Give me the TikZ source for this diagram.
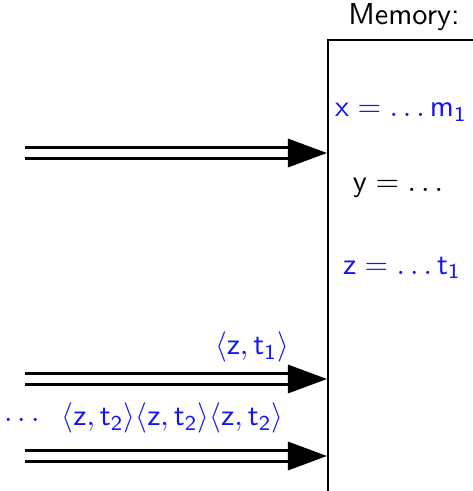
\documentclass[tikz,border=0pt]{standalone}
\usepackage{tikz}
\usetikzlibrary{positioning,arrows.meta}
\definecolor{valblue}{RGB}{20,20,245}

\begin{document}
\begin{tikzpicture}[
  x=0.33pt, y=-0.33pt,
  font=\sffamily,
  memory/.style={draw, line width=0.5pt, minimum width=70pt, minimum height=170pt, anchor=north west, inner sep=0pt},
  val/.style={text=valblue, inner sep=1pt},
  plain/.style={text=black, inner sep=1pt},
  msg/.style={text=valblue, inner sep=1pt},
  chan/.style={-{Triangle[length=12.9pt, width=9.3pt]}, line width=0.95pt, double, double distance=2.5pt}
]
\useasboundingbox (0,0) rectangle (473,491);
\clip (0,0) rectangle (473,491);

\node[memory] (mem) at (327,39) {};
\node[inner sep=1pt] (title) at (404,17) {Memory:};

\node[val] (xval) at (401,112) {$\mathsf{x}=\ldots\mathsf{m}_\mathsf{1}$};
\node[plain] (yval) at (398,188) {$\mathsf{y}=\ldots$};
\node[val] (zval) at (402,268) {$\mathsf{z}=\ldots\mathsf{t}_\mathsf{1}$};

% channels into memory
\coordinate (in1) at (25,153);
\coordinate (in2) at (25,379);
\coordinate (in3) at (25,456);

\draw[chan] (in1) -- (mem.west |- in1);
\draw[chan] (in2) -- (mem.west |- in2);
\draw[chan] (in3) -- (mem.west |- in3);

\node[msg] (m1) at (252,347) {$\langle\mathsf{z},\mathsf{t}_\mathsf{1}\rangle$};
\node[msg, anchor=east] (m2) at (287,418) {$\langle\mathsf{z},\mathsf{t}_\mathsf{2}\rangle\langle\mathsf{z},\mathsf{t}_\mathsf{2}\rangle\langle\mathsf{z},\mathsf{t}_\mathsf{2}\rangle$};
\node[msg] (more) at (22,421) {$\cdots$};

\end{tikzpicture}
\end{document}
